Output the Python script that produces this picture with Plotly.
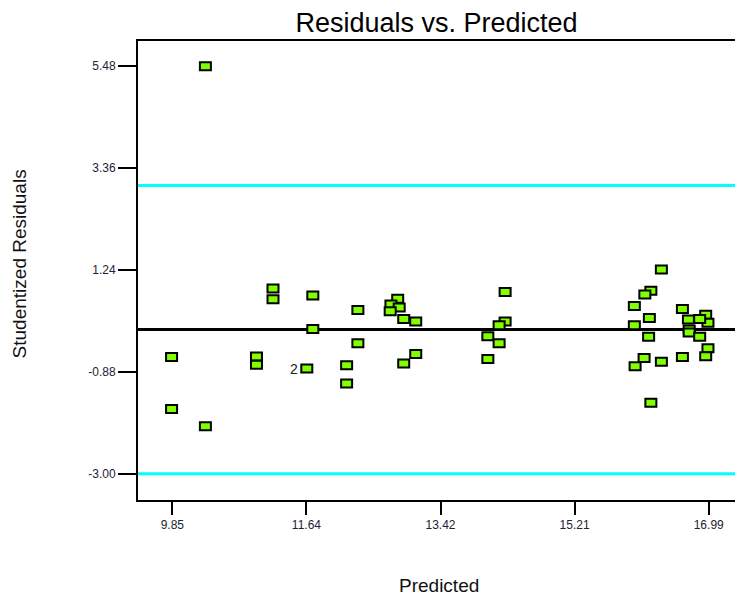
import plotly.graph_objects as go

# Diagnostic plot: studentized residuals against predicted response
predicted = [10.29, 9.84, 9.84, 10.29, 10.97, 10.97, 11.19, 11.19, 11.64, 11.72,
             11.72, 12.17, 12.17, 12.32, 12.32, 12.85, 12.76, 12.87, 12.75, 12.93,
             13.09, 12.93, 13.09, 14.28, 14.28, 14.20, 14.05, 14.20, 14.05, 16.36,
             16.22, 16.14, 16.00, 16.20, 16.00, 16.19, 16.13, 16.01, 16.36, 16.22,
             16.64, 16.95, 16.98, 16.87, 16.72, 16.73, 16.73, 16.87, 16.98, 16.95,
             16.64]
residuals = [5.48, -0.57, -1.65, -2.01, -0.56, -0.73, 0.855, 0.63, -0.81, 0.71,
             0.01, -0.74, -1.12, 0.41, -0.285, 0.64, 0.52, 0.46, 0.38, 0.22,
             0.17, -0.705, -0.51, 0.78, 0.17, 0.09, -0.14, -0.285, -0.61, 1.25,
             0.81, 0.73, 0.49, 0.24, 0.09, -0.15, -0.59, -0.76, -0.67, -1.52,
             0.43, 0.31, 0.14, 0.22, 0.21, 0.00, -0.06, -0.15, -0.39, -0.555,
             -0.57]

# Runs with identical values, flagged by a count label
repeat_x = [11.64]
repeat_y = [-0.81]
repeat_n = ["2"]

x_ticks = [9.85, 11.635, 13.42, 15.205, 16.99]
x_tick_text = ["9.85", "11.64", "13.42", "15.21", "16.99"]
y_ticks = [5.48, 3.36, 1.24, -0.88, -3.00]
y_tick_text = ["5.48", "3.36", "1.24", "-0.88", "-3.00"]

limit_lines = [3.0, -3.0]
centre_line = 0.0

FONT = "Liberation Sans, Arial, sans-serif"

fig = go.Figure()

# empty trace so the axes are created
fig.add_trace(go.Scatter(x=[], y=[], mode="markers", showlegend=False))

shapes = []
for lim in limit_lines:
    shapes.append(dict(type="line", xref="paper", yref="y", x0=0, x1=1,
                       y0=lim, y1=lim, line=dict(color="#00FFFF", width=3)))
shapes.append(dict(type="line", xref="paper", yref="y", x0=0, x1=1,
                   y0=centre_line, y1=centre_line, line=dict(color="black", width=3)))

# rectangular point markers, sized in pixels and anchored at the data values
for xv, yv in zip(predicted, residuals):
    shapes.append(dict(type="rect", xref="x", yref="y",
                       xsizemode="pixel", ysizemode="pixel",
                       xanchor=xv, yanchor=yv,
                       x0=-5.5, x1=5.5, y0=-4, y1=4,
                       fillcolor="#7FFF00", line=dict(color="black", width=2)))

annotations = []
for xv, yv, n in zip(repeat_x, repeat_y, repeat_n):
    annotations.append(dict(x=xv, y=yv, xref="x", yref="y", text=n, showarrow=False,
                            xanchor="right", xshift=-7,
                            font=dict(family=FONT, size=14, color="#222")))
annotations.append(dict(text="Predicted", x=0.505, xref="paper", y=-0.187, yref="paper",
                        yanchor="middle", showarrow=False,
                        font=dict(family=FONT, size=19, color="#111")))
annotations.append(dict(text="Studentized Residuals", x=-0.198, xref="paper", y=0.515,
                        yref="paper", textangle=-90, xanchor="center", yanchor="middle",
                        showarrow=False, font=dict(family=FONT, size=19, color="#111")))

fig.update_layout(
    width=735, height=597,
    margin=dict(l=138, r=0, t=41, b=97),
    paper_bgcolor="white", plot_bgcolor="white",
    title=dict(text="Residuals vs. Predicted", x=0.5, xref="paper",
               y=0.962, yref="container", yanchor="middle",
               font=dict(family=FONT, size=27, color="black")),
    shapes=shapes,
    annotations=annotations,
    showlegend=False,
    xaxis=dict(range=[9.393, 17.340], tickvals=x_ticks, ticktext=x_tick_text,
               showgrid=False, zeroline=False, showline=True, linecolor="black",
               linewidth=2, mirror=True, ticks="outside", ticklen=13, tickwidth=2,
               tickcolor="black", tickfont=dict(family=FONT, size=12, color="#223")),
    yaxis=dict(range=[-3.545, 6.004], tickvals=y_ticks, ticktext=y_tick_text,
               showgrid=False, zeroline=False, showline=True, linecolor="black",
               linewidth=2, mirror=False, ticks="outside", ticklen=18, tickwidth=2,
               tickcolor="black", tickfont=dict(family=FONT, size=12, color="#223")),
)

fig.write_html("out.html")
